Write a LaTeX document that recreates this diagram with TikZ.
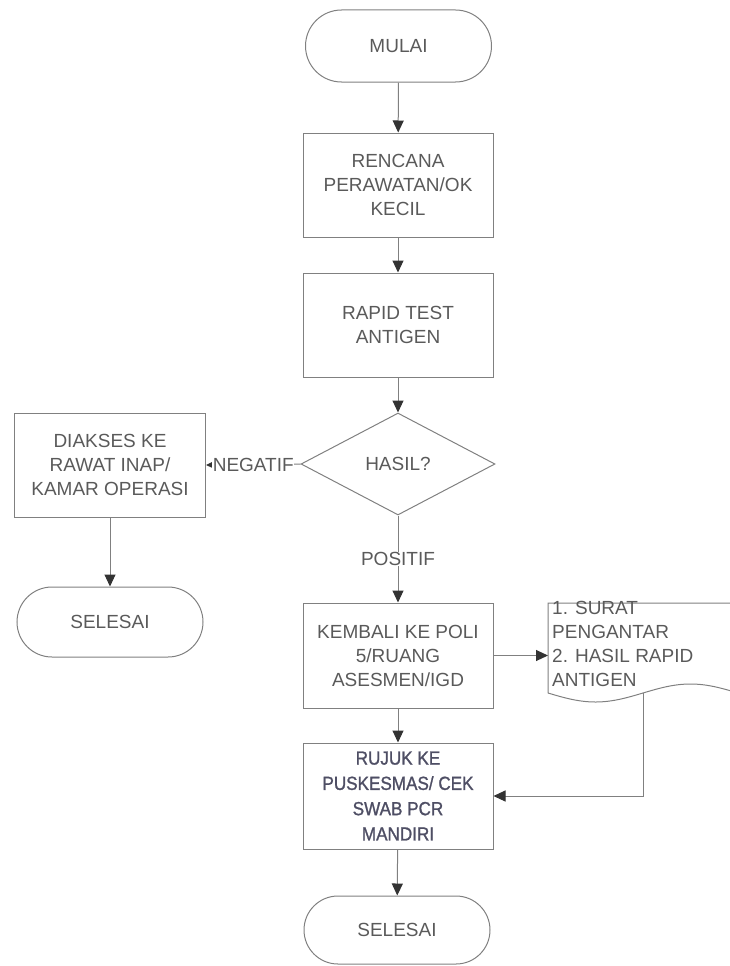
\documentclass[tikz,border=0pt]{standalone}
\usepackage{fontspec}
\setmainfont{Liberation Sans}
\newfontfamily\rujukfont[FakeStretch=0.9,FakeBold=1.2]{Liberation Sans}
\usetikzlibrary{shapes.geometric,shapes.misc,arrows.meta}
\definecolor{lin}{HTML}{808080}
\definecolor{txt}{HTML}{5A5A5A}
\definecolor{tip}{HTML}{333333}
\definecolor{rtxt}{HTML}{4E4E64}
\begin{document}
\begin{tikzpicture}[x=1pt,y=1pt,
  every node/.style={font=\fontsize{19}{24}\selectfont, text=txt},
  base/.style={draw=lin, line width=1pt, align=center, inner sep=2pt},
  proc/.style={base, rectangle, minimum width=190pt, minimum height=104pt},
  term/.style={base, rounded rectangle, minimum width=190pt, minimum height=70pt},
  decide/.style={base, diamond, minimum width=194pt, minimum height=102pt, inner sep=0pt},
  flow/.style={draw=lin, line width=1pt, -{Triangle[length=12pt,width=11pt,color=tip,fill=tip]}},
  lbl/.style={fill=white, inner sep=0.5pt}
]
\useasboundingbox (0,0) rectangle (729,-966);

\node[term] (mulai) at (398.5,-46) [minimum height=72pt] {MULAI};
\node[proc] (rencana) at (398,-185) {RENCANA\\PERAWATAN/OK\\KECIL};
\node[proc] (rapid) at (398,-325) {RAPID TEST\\ANTIGEN};
\node[decide] (hasil) at (398,-464) {HASIL?};
\node[proc] (diakses) at (110,-465) [minimum width=191pt] {DIAKSES KE\\RAWAT INAP/\\KAMAR OPERASI};
\node[term] (selesai1) at (110,-622) {SELESAI};
\node[proc] (kembali) at (398,-655.5) [minimum height=105pt] {KEMBALI KE POLI\\5/RUANG\\ASESMEN/IGD};
\node[proc] (rujuk) at (398,-796) [minimum height=106pt, font=\rujukfont\fontsize{19}{25.3}\selectfont, text=rtxt] {RUJUK KE\\PUSKESMAS/ CEK\\SWAB PCR\\MANDIRI};
\node[term] (selesai2) at (397,-930) [minimum height=68pt] {SELESAI};

% document shape
\draw[draw=lin, line width=1pt] (548,-693) -- (548,-603) -- (738,-603) -- (738,-693)
  plot[domain=190:0, samples=80] ({548+\x},{-693-9*sin(\x/190*360)});
\node[anchor=west, align=left, inner sep=0pt] (doc) at (552,-644) {1. SURAT\\PENGANTAR\\2. HASIL RAPID\\ANTIGEN};
\coordinate (docL) at (548,-655.5);
\coordinate (docB) at (643,-693);

\draw[flow] (mulai) -- (rencana);
\draw[flow] (rencana) -- (rapid);
\draw[flow] (rapid) -- (hasil);
\draw[flow] (hasil.west) -- node[lbl] {NEGATIF} (diakses.east);
\draw[flow] (diakses) -- (selesai1);
\draw[flow] (hasil.south) -- node[lbl] {POSITIF} (kembali.north);
\draw[flow] (kembali.east) -- (docL);
\draw[flow] (kembali) -- (rujuk);
\draw[flow] (docB) |- (rujuk.east);
\draw[flow] (rujuk) -- (selesai2);
\end{tikzpicture}
\end{document}
